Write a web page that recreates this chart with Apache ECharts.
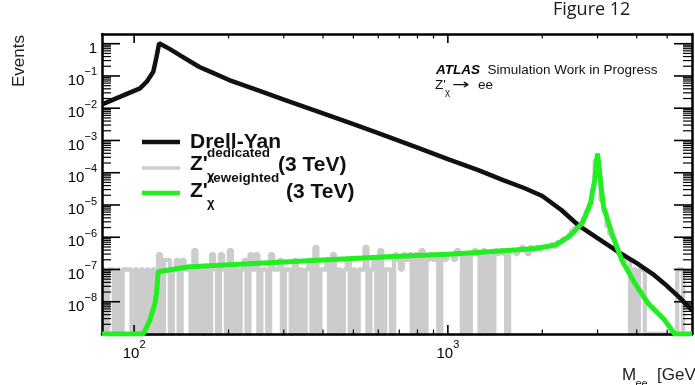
<!DOCTYPE html>
<html><head><meta charset="utf-8">
<script src="https://cdn.jsdelivr.net/npm/echarts@6/dist/echarts.min.js"></script>
<style>html,body{margin:0;padding:0;background:#fff}#c{width:695px;height:385px}</style>
</head><body><div id="c"></div>
<script>
// Axis ranges (M_ee in GeV, Events)
const X_MIN = 79, X_MAX = 6000, Y_MIN = 1e-9, Y_MAX = 2;

// Drell-Yan
const dyMass = [79.1, 90.4, 104.4, 109.7, 115.1, 117.9, 120.2, 130.9, 141, 151, 161.5, 175.4, 200.9, 250, 300, 400, 500, 600, 800, 1000, 1250, 1500, 1750, 2000, 2300, 2600, 3000, 3500, 4000, 4500, 5000, 5500, 6000];
const dyEvents = [0.0132, 0.0228, 0.0414, 0.0664, 0.135, 0.395, 1.03, 0.656, 0.42, 0.28, 0.19, 0.134, 0.0749, 0.0349, 0.0186, 6.9e-3, 3.19e-3, 1.7e-3, 6.0e-4, 2.66e-4, 1.21e-4, 5.9e-5, 3.36e-5, 1.9e-5, 6.97e-6, 2.39e-6, 9.4e-7, 3.47e-7, 1.58e-7, 7.2e-8, 3.07e-8, 1.3e-8, 5.5e-9];

// Z' reweighted (3 TeV); values at the axis minimum are empty bins
const zrMass = [79, 107, 112.3, 116.5, 117.9, 119.3, 150, 311, 641, 1000, 1430, 1909, 2208, 2431, 2680, 2847, 2937, 2965, 3000, 3035, 3061, 3135, 3332, 3584, 3948, 4346, 4909, 5279, 6000];
const zrEvents = [1e-9, 1e-9, 2.7e-9, 8.9e-9, 1.8e-8, 8.5e-8, 1.22e-7, 1.74e-7, 2.5e-7, 2.96e-7, 3.7e-7, 4.5e-7, 5.8e-7, 1.04e-6, 2.7e-6, 1.1e-5, 5.9e-5, 1.5e-4, 3.9e-4, 1.5e-4, 5.9e-5, 8.9e-6, 1.3e-6, 1.95e-7, 3.7e-8, 8.9e-9, 2.7e-9, 1e-9, 1e-9];

// Z' dedicated (3 TeV): histogram, 200 log-spaced bins from X_MIN to X_MAX, counts of MC events of weight greyUnit
const greyNBins = 200;
const greyUnit = 1e-7;
const greyCounts = [
  1,0,1,1,0,1,0,1,1,1,
  0,1,0,1,0,1,0,1,0,3,
  0,2,2,0,1,2,0,2,1,1,
  0,4,0,1,0,1,0,3,1,0,
  3,1,0,4,0,1,0,1,2,0,
  3,1,3,0,1,1,0,3,1,1,
  2,0,1,1,0,2,0,1,0,1,
  2,0,5,0,1,1,2,0,3,0,
  1,0,1,2,0,1,0,1,1,5,
  0,1,2,0,4,0,1,1,0,3,
  2,1,3,2,3,0,3,0,4,0,
  2,3,2,3,0,3,2,3,3,2,
  4,3,0,3,0,3,4,3,0,4,
  0,3,0,4,3,4,3,0,4,4,
  3,4,5,4,3,5,4,5,4,5,
  5,5,6,5,7,7,9,10,12,16,
  20,22,28,40,65,110,300,2500,800,140,
  60,22,12,9,4,3,3,2,2,0,
  1,0,1,1,0,0,0,0,0,0,
  0,0,0,0,0,1,1,0,0,0
];

// Tick marks
const xMajorTicks = [100, 1000];
const xMinorTicks = [200, 300, 400, 500, 600, 700, 800, 900, 2000, 3000, 4000, 5000];
const yDecades = [-9, -8, -7, -6, -5, -4, -3, -2, -1, 0];
const yMinorMult = [2, 3, 4, 5, 6, 7, 8, 9];

const FONT = 'Liberation Sans';

const dyData = dyMass.map((m, i) => [m, dyEvents[i]]);
const zrData = zrMass.map((m, i) => [m, zrEvents[i]]);
const greyEdges = [];
for (let i = 0; i <= greyNBins; i++) greyEdges.push(X_MIN * Math.pow(X_MAX / X_MIN, i / greyNBins));
const greyData = greyCounts.map((c, i) => [greyEdges[i], c > 0 ? c * greyUnit : Y_MIN]);
greyData.push([greyEdges[greyNBins], greyData[greyData.length - 1][1]]);

// tick records: [x, y, side(0 left,1 right,2 bottom,3 top), major]
const tickData = [];
yDecades.forEach(e => {
  const v = Math.pow(10, e);
  if (e > -9) { tickData.push([X_MIN, v, 0, 1]); tickData.push([X_MAX, v, 1, 1]); }
  yMinorMult.forEach(m => {
    const mv = m * v;
    if (mv < Y_MAX) { tickData.push([X_MIN, mv, 0, 0]); tickData.push([X_MAX, mv, 1, 0]); }
  });
});
xMajorTicks.forEach(v => { tickData.push([v, Y_MIN, 2, 1]); tickData.push([v, Y_MAX, 3, 1]); });
xMinorTicks.forEach(v => { tickData.push([v, Y_MIN, 2, 0]); tickData.push([v, Y_MAX, 3, 0]); });

function renderTick(params, api) {
  const p = api.coord([api.value(0), api.value(1)]);
  const side = api.value(2), major = api.value(3);
  let x2 = p[0], y2 = p[1];
  if (side === 0) x2 = p[0] + (major ? 18 : 9);
  else if (side === 1) x2 = p[0] - (major ? 18 : 9);
  else if (side === 2) y2 = p[1] - (major ? 9 : 4.5);
  else y2 = p[1] + (major ? 9 : 4.5);
  return { type: 'line', shape: { x1: p[0], y1: p[1], x2: x2, y2: y2 },
           style: { stroke: '#000', lineWidth: major ? 1.6 : 1.2 } };
}

function expLabel(v) {
  const e = Math.log10(v), r = Math.round(e);
  if (Math.abs(e - r) > 1e-6) return '';
  if (r <= -9) return '';
  if (r === 0) return '{b|1}';
  return '{b|10}{s|' + (r < 0 ? '\u2212' : '') + Math.abs(r) + '}';
}
const labelRich = {
  b: { fontSize: 15, fontFamily: FONT, color: '#000', lineHeight: 28, verticalAlign: 'middle' },
  s: { fontSize: 11, fontFamily: FONT, color: '#000', lineHeight: 11, verticalAlign: 'top' }
};

const frameLine = { show: true, lineStyle: { color: '#000', width: 2.5 } };

const chart = echarts.init(document.getElementById('c'));
chart.setOption({
  animation: false,
  backgroundColor: '#fff',
  grid: { left: 102, top: 34, width: 596, height: 300, containLabel: false },
  xAxis: [
    { type: 'log', logBase: 10, min: X_MIN, max: X_MAX, position: 'bottom', z: 2,
      axisLine: frameLine, axisTick: { show: false }, splitLine: { show: false },
      axisLabel: { formatter: expLabel, rich: labelRich, margin: 5.5 } },
    { type: 'log', logBase: 10, min: X_MIN, max: X_MAX, position: 'top', z: 2,
      axisLine: frameLine, axisTick: { show: false }, splitLine: { show: false },
      axisLabel: { show: false } }
  ],
  yAxis: [
    { type: 'log', logBase: 10, min: Y_MIN, max: Y_MAX, position: 'left', z: 2,
      axisLine: frameLine, axisTick: { show: false }, splitLine: { show: false },
      axisLabel: { formatter: expLabel, rich: labelRich, margin: 5, padding: [10, 0, 0, 0] } },
    { type: 'log', logBase: 10, min: Y_MIN, max: Y_MAX, position: 'right', z: 2,
      axisLine: frameLine, axisTick: { show: false }, splitLine: { show: false },
      axisLabel: { show: false } }
  ],
  series: [
    { type: 'line', data: greyData, step: 'end', symbol: 'none', showSymbol: false, z: 1,
      lineStyle: { color: '#cccccc', width: 4.3 } },
    { type: 'custom', data: tickData, renderItem: renderTick, encode: { x: 0, y: 1 }, z: 2, silent: true },
    { type: 'line', data: dyData, symbol: 'none', showSymbol: false, z: 3,
      lineStyle: { color: '#111', width: 4.5 } },
    { type: 'line', data: zrData, symbol: 'none', showSymbol: false, z: 4,
      lineStyle: { color: '#22ee22', width: 5 } }
  ],
  graphic: [
    { type: 'text', x: 553, y: 10, style: { text: 'Figure 12', fontFamily: 'Open Sans', fontSize: 18, fill: '#1a1a1a', align: 'left', verticalAlign: 'middle' } },
    { type: 'text', x: 19, y: 35, rotation: Math.PI / 2, style: { text: 'Events', fontFamily: FONT, fontSize: 17, fill: '#222', align: 'right', verticalAlign: 'middle' } },
    { type: 'text', x: 622, y: 375, style: { text: 'M', fontFamily: FONT, fontSize: 17, fill: '#222', verticalAlign: 'middle' } },
    { type: 'text', x: 635.5, y: 384, style: { text: 'ee', fontFamily: FONT, fontSize: 11, fill: '#222', verticalAlign: 'middle' } },
    { type: 'text', x: 657, y: 375, style: { text: '[GeV]', fontFamily: FONT, fontSize: 17, fill: '#222', verticalAlign: 'middle' } },
    { type: 'text', x: 436, y: 70.5, style: { text: 'ATLAS', fontFamily: FONT, fontSize: 13.5, fontWeight: 'bold', fontStyle: 'italic', fill: '#000', verticalAlign: 'middle' } },
    { type: 'text', x: 487.5, y: 70.5, style: { text: 'Simulation Work in Progress', fontFamily: FONT, fontSize: 13.5, fill: '#111', verticalAlign: 'middle' } },
    { type: 'text', x: 435, y: 85.5, style: { text: "Z'", fontFamily: FONT, fontSize: 13.5, fill: '#111', verticalAlign: 'middle' } },
    { type: 'text', x: 445, y: 92, style: { text: '\u03c7', fontFamily: FONT, fontSize: 9.5, fill: '#111', verticalAlign: 'middle' } },
    { type: 'text', x: 452, y: 85.5, scaleX: 1.5, style: { text: '\u2192', fontFamily: 'DejaVu Sans', fontSize: 14, fill: '#111', verticalAlign: 'middle' } },
    { type: 'text', x: 478, y: 85.5, style: { text: 'ee', fontFamily: FONT, fontSize: 13.5, fill: '#111', verticalAlign: 'middle' } },
    // legend
    { type: 'line', shape: { x1: 142, y1: 142, x2: 180, y2: 142 }, style: { stroke: '#111', lineWidth: 4.3 } },
    { type: 'line', shape: { x1: 142, y1: 168, x2: 180, y2: 168 }, style: { stroke: '#cccccc', lineWidth: 3.7 } },
    { type: 'line', shape: { x1: 142, y1: 193, x2: 180, y2: 193 }, style: { stroke: '#22ee22', lineWidth: 4.3 } },
    { type: 'text', x: 190, y: 142.7, style: { text: 'Drell-Yan', fontFamily: FONT, fontSize: 21, fontWeight: 'bold', fill: '#111', verticalAlign: 'middle' } },
    { type: 'text', x: 190, y: 164.7, style: { text: "Z'", fontFamily: FONT, fontSize: 21, fontWeight: 'bold', fill: '#111', verticalAlign: 'middle' } },
    { type: 'text', x: 207, y: 153.3, style: { text: 'dedicated', fontFamily: FONT, fontSize: 13.5, fontWeight: 'bold', fill: '#111', verticalAlign: 'middle' } },
    { type: 'text', x: 207, y: 176, style: { text: '\u03c7', fontFamily: FONT, fontSize: 13, fontWeight: 'bold', fill: '#111', verticalAlign: 'middle' } },
    { type: 'text', x: 278, y: 165.7, style: { text: '(3 TeV)', fontFamily: FONT, fontSize: 21, fontWeight: 'bold', fill: '#111', verticalAlign: 'middle' } },
    { type: 'text', x: 190, y: 191.7, style: { text: "Z'", fontFamily: FONT, fontSize: 21, fontWeight: 'bold', fill: '#111', verticalAlign: 'middle' } },
    { type: 'text', x: 208, y: 178.3, style: { text: 'reweighted', fontFamily: FONT, fontSize: 13.5, fontWeight: 'bold', fill: '#111', verticalAlign: 'middle' } },
    { type: 'text', x: 207, y: 203, style: { text: '\u03c7', fontFamily: FONT, fontSize: 13, fontWeight: 'bold', fill: '#111', verticalAlign: 'middle' } },
    { type: 'text', x: 286, y: 192.7, style: { text: '(3 TeV)', fontFamily: FONT, fontSize: 21, fontWeight: 'bold', fill: '#111', verticalAlign: 'middle' } }
  ]
});
</script>
</body></html>
